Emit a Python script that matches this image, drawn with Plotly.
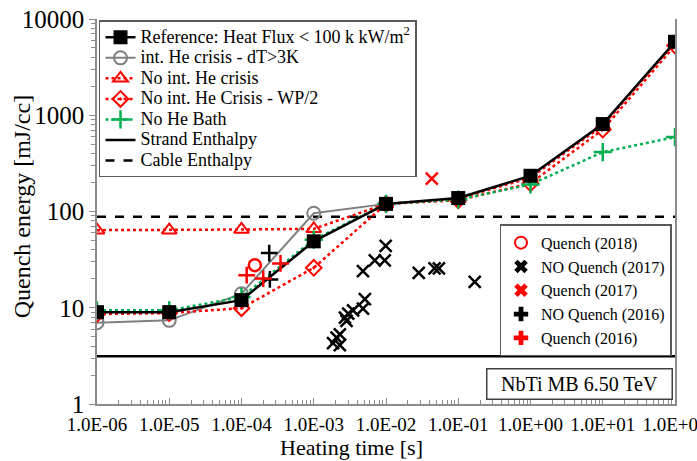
import plotly.graph_objects as go

# ---------------- data ----------------
heating_time = [1e-6, 1e-5, 1e-4, 1e-3, 1e-2, 1e-1, 1e0, 1e1, 1e2]
ref_heat_flux = [9.0, 9.0, 12.0, 49, 120, 138, 235, 810, 5800]
he_crisis_time = [1e-6, 1e-5, 1e-4, 1e-3, 1e-2]
he_crisis_dt3k = [7.0, 7.4, 14, 96, 120]
no_he_crisis = [64, 64, 65, 66, 120, 136, 225, 780, 5700]
no_he_crisis_wp2 = [8.6, 8.8, 9.9, 26, 120, 131, 196, 710, 5300]
no_he_bath = [9.4, 9.4, 12.9, 51, 120, 133, 191, 414, 593]

enthalpy_time = [1e-6, 1e2]
strand_enthalpy = [3.13, 3.13]
cable_enthalpy = [88, 88]

quench2018_t = [1.53e-4]
quench2018_e = [27.7]
noquench2017_t = [9.9e-3, 7.0e-3, 9.6e-3, 4.8e-3, 2.84e-2, 4.7e-2, 5.4e-2, 0.169,
                  5.1e-3, 4.8e-3, 3.5e-3, 3.0e-3, 2.7e-3, 2.84e-3, 2.3e-3, 1.85e-3,
                  2.3e-3, 2.07e-3]
noquench2017_e = [44, 31, 31, 24, 23, 25.6, 25.6, 18.6,
                  12.3, 9.8, 9.4, 8.7, 7.9, 7.3, 5.3, 4.3,
                  4.1, 4.9]
quench2017_t = [4.3e-2]
quench2017_e = [219]
noquench2016_t = [2.42e-4, 2.47e-4]
noquench2016_e = [37, 19.7]
quench2016_t = [1.18e-4, 2.0e-4, 3.47e-4]
quench2016_e = [21.8, 20.1, 28.9]

x_tickvals = [1e-6, 1e-5, 1e-4, 1e-3, 1e-2, 1e-1, 1e0, 1e1, 1e2]
x_ticktext = ["1.0E-06", "1.0E-05", "1.0E-04", "1.0E-03", "1.0E-02",
              "1.0E-01", "1.0E+00", "1.0E+01", "1.0E+02"]
y_tickvals = [1, 10, 100, 1000, 10000]
y_ticktext = ["1", "10", "100", "1000", "10000"]

x_minor = [m * 10.0 ** e for e in range(-6, 2) for m in range(2, 10)]
y_minor = [m * 10.0 ** e for e in range(0, 4) for m in range(2, 10)]

FONT = "Liberation Serif, Times New Roman, serif"
RED = "#FF0000"
GREEN = "#00B050"
GRAY = "#808080"
AXIS = "#8C8C8C"


def big(s):
    # legend text drawn a little larger than the legend row height implies
    return "<span style='font-size:18px'>" + s + "</span>"


fig = go.Figure()

# enthalpy lines
fig.add_trace(go.Scatter(x=enthalpy_time, y=cable_enthalpy, mode="lines",
                         name=big("Cable Enthalpy"), legendrank=7,
                         line=dict(color="black", width=2.5, dash="dash")))
fig.add_trace(go.Scatter(x=enthalpy_time, y=strand_enthalpy, mode="lines",
                         name=big("Strand Enthalpy"), legendrank=6,
                         line=dict(color="black", width=2.5)))

# simulation curves
fig.add_trace(go.Scatter(x=he_crisis_time, y=he_crisis_dt3k, mode="lines+markers",
                         name=big("int. He crisis - dT&gt;3K"), legendrank=2,
                         line=dict(color=GRAY, width=2),
                         marker=dict(symbol="circle-open", size=13, color=GRAY,
                                     line=dict(width=2, color=GRAY))))
fig.add_trace(go.Scatter(x=heating_time, y=no_he_crisis, mode="lines+markers",
                         name=big("No int. He crisis"), legendrank=3,
                         line=dict(color=RED, width=2.5, dash="dot"),
                         marker=dict(symbol="triangle-up-open", size=13, color=RED,
                                     line=dict(width=2, color=RED))))
fig.add_trace(go.Scatter(x=heating_time, y=no_he_crisis_wp2, mode="lines+markers",
                         name=big("No int. He Crisis - WP/2"), legendrank=4,
                         line=dict(color=RED, width=2.5, dash="dot"),
                         marker=dict(symbol="diamond-open-dot", size=12, color=RED,
                                     line=dict(width=2, color=RED))))
fig.add_trace(go.Scatter(x=heating_time, y=no_he_bath, mode="lines+markers",
                         name=big("No He Bath"), legendrank=5,
                         line=dict(color=GREEN, width=2.5, dash="dot"),
                         marker=dict(symbol="cross-thin-open", size=13, color=GREEN,
                                     line=dict(width=2.5, color=GREEN))))
fig.add_trace(go.Scatter(x=heating_time, y=ref_heat_flux, mode="lines+markers",
                         name=big("Reference: Heat Flux &lt; 100 k kW/m<sup>2</sup>"),
                         legendrank=1,
                         line=dict(color="black", width=2.5),
                         marker=dict(symbol="square", size=14, color="black")))

# measurements (drawn)
def meas(x, y, sym, color):
    fig.add_trace(go.Scatter(x=x, y=y, mode="markers", showlegend=False,
                             marker=dict(symbol=sym, size=12, color=color,
                                         line=dict(width=2.5, color=color))))

meas(noquench2017_t, noquench2017_e, "x-thin-open", "black")
meas(quench2017_t, quench2017_e, "x-thin-open", RED)
meas(noquench2016_t, noquench2016_e, "cross-thin-open", "black")
meas(quench2016_t, quench2016_e, "cross-thin-open", RED)
meas(quench2018_t, quench2018_e, "circle-open", RED)

# legend entries for measurements
def leg2(name, sym, color, rank, lw=0):
    fig.add_trace(go.Scatter(x=[None], y=[None], mode="markers", name=name,
                             legend="legend2", legendrank=rank,
                             marker=dict(symbol=sym, size=11, color=color,
                                         line=dict(width=lw, color=color))))

leg2("Quench (2018)", "circle-open", RED, 1, lw=3.5)
leg2("NO Quench (2017)", "x", "black", 2)
leg2("Quench (2017)", "x", RED, 3)
leg2("NO Quench (2016)", "cross", "black", 4)
leg2("Quench (2016)", "cross", RED, 5)

L, R, T, B = 97, 21.5, 18.5, 57
W, H = 697, 461
pw = W - L - R
ph = H - T - B

def px_x(p):
    return (p - L) / pw

def px_y(p):
    return 1 - (p - T) / ph

fig.update_layout(
    width=W, height=H,
    margin=dict(l=L, r=R, t=T, b=B, autoexpand=False),
    paper_bgcolor="white", plot_bgcolor="white",
    font=dict(family=FONT, color="black"),
    legend=dict(x=px_x(99), y=px_y(20), xanchor="left", yanchor="top",
                bgcolor="white", bordercolor="#595959", borderwidth=1.5,
                font=dict(family=FONT, size=13.5, color="black"),
                tracegroupgap=0, itemwidth=30),
    legend2=dict(x=px_x(672), y=px_y(224), xanchor="right", yanchor="top",
                 bgcolor="white", bordercolor="#595959", borderwidth=1.5,
                 font=dict(family=FONT, size=16, color="black"),
                 itemsizing="constant"),
    showlegend=True,
)

fig.update_xaxes(type="log", range=[-6, 2], tickvals=x_tickvals, ticktext=x_ticktext,
                 showgrid=False, zeroline=False, automargin=False,
                 showline=True, linecolor=AXIS, linewidth=1.5,
                 ticks="inside", ticklen=6, tickcolor=AXIS, tickwidth=1,
                 ticklabelstandoff=2, ticklabeloverflow="allow",
                 tickfont=dict(family=FONT, size=19, color="black"),
                 minor=dict(tickmode="array", tickvals=x_minor, ticks="inside",
                            ticklen=4, tickcolor=AXIS, showgrid=False))
fig.update_yaxes(type="log", range=[0, 4], tickvals=y_tickvals, ticktext=y_ticktext,
                 showgrid=False, zeroline=False, automargin=False,
                 showline=True, linecolor=AXIS, linewidth=1.5, mirror=True,
                 ticks="outside", ticklen=6, tickcolor=AXIS, tickwidth=1,
                 ticklabeloverflow="allow",
                 tickfont=dict(family=FONT, size=25, color="black"),
                 minor=dict(tickmode="array", tickvals=y_minor, ticks="outside",
                            ticklen=4, tickcolor=AXIS, showgrid=False))

fig.add_annotation(text="Quench energy [mJ/cc]", xref="paper", yref="paper",
                   x=px_x(22), y=px_y(207), textangle=-90, showarrow=False,
                   xanchor="center", yanchor="middle",
                   font=dict(family=FONT, size=24, color="black"))
fig.add_annotation(text="Heating time [s]", xref="paper", yref="paper",
                   x=px_x(352), y=px_y(447.5), showarrow=False,
                   xanchor="center", yanchor="middle",
                   font=dict(family=FONT, size=22, color="black"))
fig.add_annotation(text="NbTi MB 6.50 TeV", xref="paper", yref="paper",
                   x=px_x(580), y=px_y(384), showarrow=False,
                   xanchor="center", yanchor="middle",
                   font=dict(family=FONT, size=20, color="black"),
                   bordercolor="#404040", borderwidth=1.5, borderpad=3,
                   bgcolor="white", width=178, height=23)

post = ("document.body.style.margin='0px';"
        "document.body.style.overflow='hidden';")

fig.write_html("out.html", post_script=post, config={"displayModeBar": False})
